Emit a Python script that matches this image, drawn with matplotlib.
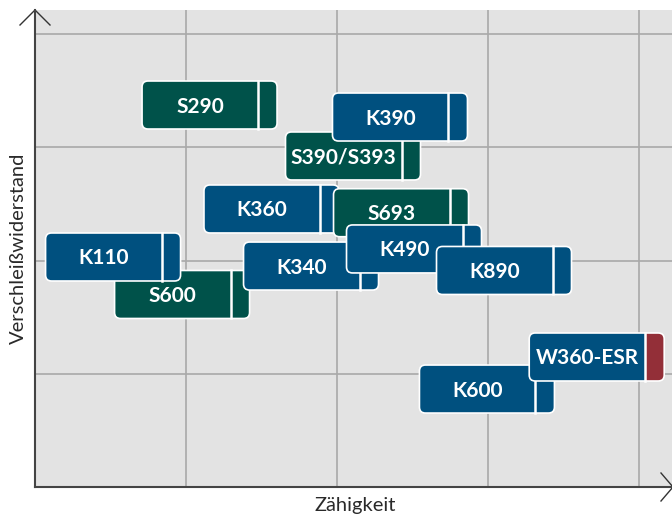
import matplotlib
matplotlib.use("Agg")
import matplotlib.pyplot as plt
from matplotlib.patches import FancyBboxPatch, Rectangle
from matplotlib.transforms import ScaledTranslation
from matplotlib.lines import Line2D

# Data (position on the chart: toughness, wear resistance)
names = ["S290", "S390/S393", "K390", "K360", "S693", "S600", "K110",
         "K340", "K490", "K890", "K600", "W360-ESR"]
toughness = [1.156, 2.106, 2.417, 1.566, 2.424, 0.974, 0.517,
             1.828, 2.510, 3.106, 2.993, 3.720]
wear = [3.373, 2.923, 3.267, 2.455, 2.422, 1.700, 2.031,
        1.951, 2.102, 1.912, 0.865, 1.148]
groups = ["S", "S", "K", "K", "S", "S", "K", "K", "K", "K", "K", "W"]

xlabel = "Zähigkeit"
ylabel = "Verschleißwiderstand"

GREEN = "#00524a"
BLUE = "#00507f"
RED = "#932f38"
main_col = {"S": GREEN, "K": BLUE, "W": BLUE}
tab_col = {"S": GREEN, "K": BLUE, "W": RED}

fig = plt.figure(figsize=(6.72, 5.18), dpi=100)
ax = fig.add_axes([35 / 672, 31 / 518, 637 / 672, 477 / 518])
ax.set_facecolor("#e3e3e3")
ax.set_xlim(0, 637 / 151)
ax.set_ylim(0, 477 / 113.25)
ax.set_xticks([1, 2, 3, 4])
ax.set_yticks([1, 2, 3, 4])
ax.grid(True, color="#a9a9a9", linewidth=1.2)
ax.set_axisbelow(True)
ax.tick_params(length=0, labelbottom=False, labelleft=False)
for s in ["top", "right"]:
    ax.spines[s].set_visible(False)
for s in ["left", "bottom"]:
    ax.spines[s].set_color("#444444")
    ax.spines[s].set_linewidth(1.5)

# arrow heads (open chevrons)
ax.add_line(Line2D([20 / 672, 35 / 672, 50 / 672],
                   [1 - 25 / 518, 1 - 10 / 518, 1 - 25 / 518],
                   transform=fig.transFigure, color="#333333", lw=1.0,
                   clip_on=False))
ax.add_line(Line2D([661 / 672, 673 / 672, 661 / 672],
                   [1 - 473 / 518, 1 - 487 / 518, 1 - 501 / 518],
                   transform=fig.transFigure, color="#333333", lw=1.0,
                   clip_on=False))

W, H = 1.35, 0.48   # inches
TAB = 0.19
R = 0.06
for i, (n, x, y, g) in enumerate(zip(names, toughness, wear, groups)):
    tr = fig.dpi_scale_trans + ScaledTranslation(x, y, ax.transData)
    z = 3 + i * 0.1
    ax.add_patch(FancyBboxPatch((-W / 2, -H / 2), W, H,
                                boxstyle=f"round,pad=0,rounding_size={R}",
                                transform=tr, facecolor=tab_col[g],
                                edgecolor="none", zorder=z, clip_on=False))
    ax.add_patch(FancyBboxPatch((-W / 2, -H / 2), W - TAB, H,
                                boxstyle=f"round,pad=0,rounding_size={R}",
                                transform=tr, facecolor=main_col[g],
                                edgecolor="none", zorder=z + 0.01, clip_on=False))
    ax.add_patch(Rectangle((W / 2 - TAB - R, -H / 2), R, H, transform=tr,
                           facecolor=main_col[g], edgecolor="none",
                           zorder=z + 0.02, clip_on=False))
    ax.add_patch(FancyBboxPatch((-W / 2, -H / 2), W, H,
                                boxstyle=f"round,pad=0,rounding_size={R}",
                                transform=tr, facecolor="none",
                                edgecolor="white", lw=1.2, zorder=z + 0.03,
                                clip_on=False))
    ax.add_line(Line2D([W / 2 - TAB, W / 2 - TAB], [-H / 2, H / 2],
                       transform=tr, color="white", lw=1.8, zorder=z + 0.04))
    ax.text(-TAB / 2, -0.015, n, transform=tr, ha="center", va="center",
            color="white", fontsize=15, fontweight="bold", family="Lato",
            zorder=z + 0.05)

fig.text(355 / 672, 1 - 506 / 518, xlabel, ha="center", va="center",
         fontsize=14.5, color="#2a2a2a", family="Lato")
fig.text(18 / 672, 1 - 248 / 518, ylabel, ha="center", va="center",
         rotation=90, fontsize=14.5, color="#2a2a2a", family="Lato")

fig.savefig("out.png", dpi=100)
